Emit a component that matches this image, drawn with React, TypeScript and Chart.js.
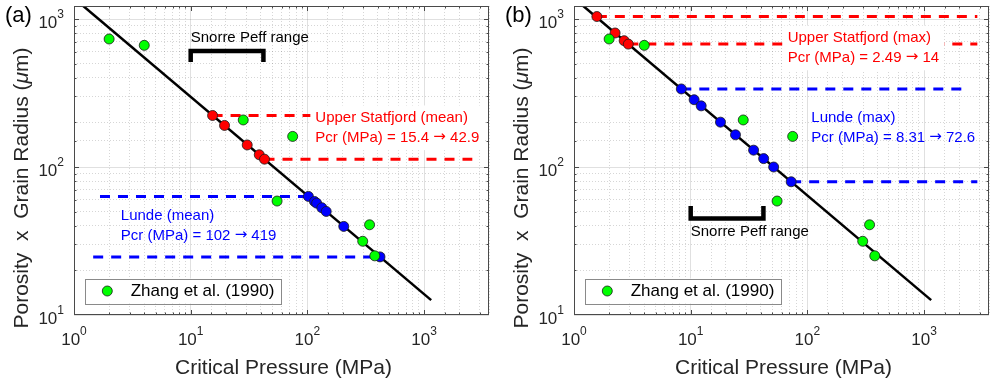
import React, { useEffect, useRef } from "react";
import { Chart, registerables } from "chart.js";

Chart.register(...registerables);

const FONT = '"Liberation Sans", Arial, Helvetica, sans-serif';
const ARROW_FONT = '"DejaVu Sans", "Liberation Sans", sans-serif';

// ---------- axes ----------
const xLimits = [1, 3600];
const yLimits = [10, 1225];
const xTickPowers = [0, 1, 2, 3];
const yTickPowers = [1, 2, 3];
const xAxisLabel = "Critical Pressure (MPa)";
const yAxisLabelParts = ["Porosity  x  Grain Radius (", "\u03bc", "m)"];

// ---------- fitted power-law line ----------
const fitPressure = [1.2, 1150];
const fitRadius = [1225, 12.6];

// ---------- Zhang et al. (1990) ----------
const zhangPressure = [2.0, 4.0, 28.2, 74.8, 55, 341, 298, 378];
const zhangRadius = [733, 664, 208, 161, 58.9, 40.7, 31.5, 25.1];
const zhangLabel = "Zhang et al. (1990)";

// ---------- panel (a): mean ----------
const statfjordMeanPressure = [15.4, 19.5, 30.5, 38.7, 42.9];
const statfjordMeanRadius = [223, 191, 141, 121, 113];
const statfjordMeanGuideP = [[15.4, 2590], [42.9, 2590]];
const statfjordMeanGuideR = [223, 113];
const statfjordMeanText = ["Upper Statfjord (mean)", "Pcr (MPa) = 15.4 \u2192 42.9"];
const statfjordMeanTextAt = [117, 214];

const lundeMeanPressure = [102, 115, 120, 133, 145, 205, 419];
const lundeMeanRadius = [63.3, 58.5, 57.0, 53.1, 50.1, 39.7, 24.7];
const lundeMeanGuideP = [[1.67, 102], [1.46, 419]];
const lundeMeanGuideR = [63.3, 24.7];
const lundeMeanText = ["Lunde (mean)", "Pcr (MPa) = 102 \u2192 419"];
const lundeMeanTextAt = [2.52, 46.6];

const snorreLabel = "Snorre Peff range";
const snorreP = [10, 10, 42, 42];
const snorreMeanR = [512, 608, 608, 512];
const snorreMeanTextAt = [10, 745];

// ---------- panel (b): max ----------
const statfjordMaxPressure = [1.57, 2.25, 2.69, 2.92];
const statfjordMaxRadius = [1040, 805, 714, 677];
const statfjordMaxGuideP = [[1.57, 2860], [2.92, 2860]];
const statfjordMaxGuideR = [1040, 677];
const statfjordMaxText = ["Upper Statfjord (max)", "Pcr (MPa) = 2.49 \u2192 14"];
const statfjordMaxTextAt = [67.8, 741];

const lundeMaxPressure = [8.31, 10.7, 12.3, 18.0, 24.2, 34.6, 42.2, 51.4, 72.6];
const lundeMaxRadius = [337, 285, 259, 201, 165, 130, 114, 100, 79.5];
const lundeMaxGuideP = [[8.31, 2425], [72.6, 2860]];
const lundeMaxGuideR = [337, 79.5];
const lundeMaxText = ["Lunde (max)", "Pcr (MPa) = 8.31 \u2192 72.6"];
const lundeMaxTextAt = [108, 214];

const snorreMaxR = [54.5, 44.8, 44.8, 54.5];
const snorreMaxTextAt = [10, 36.5];

const RED = "#ff0000";
const BLUE = "#0000ff";
const GREEN = "#00ff00";

const pts = (xs: number[], ys: number[]) => xs.map((x, i) => ({ x, y: ys[i] }));
const isPow10 = (v: number) => {
  if (!(v > 0)) return false;
  const l = Math.log10(v);
  return Math.abs(l - Math.round(l)) < 1e-6;
};

type TextBlock = { lines: string[]; at: number[]; color: string; size: number; lh: number; box: boolean };

type PanelCfg = {
  tag: string;
  statP: number[]; statR: number[]; statGP: number[][]; statGR: number[];
  lundeP: number[]; lundeR: number[]; lundeGP: number[][]; lundeGR: number[];
  snorreR: number[];
  texts: TextBlock[];
};

const panels: PanelCfg[] = [
  {
    tag: "(a)",
    statP: statfjordMeanPressure, statR: statfjordMeanRadius,
    statGP: statfjordMeanGuideP, statGR: statfjordMeanGuideR,
    lundeP: lundeMeanPressure, lundeR: lundeMeanRadius,
    lundeGP: lundeMeanGuideP, lundeGR: lundeMeanGuideR,
    snorreR: snorreMeanR,
    texts: [
      { lines: [snorreLabel], at: snorreMeanTextAt, color: "#000", size: 15, lh: 19.3, box: false },
      { lines: statfjordMeanText, at: statfjordMeanTextAt, color: RED, size: 15, lh: 19.3, box: true },
      { lines: lundeMeanText, at: lundeMeanTextAt, color: BLUE, size: 15, lh: 19.3, box: false },
    ],
  },
  {
    tag: "(b)",
    statP: statfjordMaxPressure, statR: statfjordMaxRadius,
    statGP: statfjordMaxGuideP, statGR: statfjordMaxGuideR,
    lundeP: lundeMaxPressure, lundeR: lundeMaxRadius,
    lundeGP: lundeMaxGuideP, lundeGR: lundeMaxGuideR,
    snorreR: snorreMaxR,
    texts: [
      { lines: [snorreLabel], at: snorreMaxTextAt, color: "#000", size: 15, lh: 19.3, box: false },
      { lines: statfjordMaxText, at: statfjordMaxTextAt, color: RED, size: 15, lh: 19.3, box: true },
      { lines: lundeMaxText, at: lundeMaxTextAt, color: BLUE, size: 15, lh: 19.3, box: false },
    ],
  },
];

// draws a line of text where the arrow glyph uses a wider font; returns width
function richLine(ctx: CanvasRenderingContext2D, s: string, x: number, y: number, size: number, draw: boolean) {
  const parts = s.split("\u2192");
  let cx = x;
  parts.forEach((p, i) => {
    ctx.font = `${size}px ${FONT}`;
    if (draw) ctx.fillText(p, cx, y);
    cx += ctx.measureText(p).width;
    if (i < parts.length - 1) {
      ctx.font = `${size}px ${ARROW_FONT}`;
      if (draw) ctx.fillText("\u2192", cx, y);
      cx += ctx.measureText("\u2192").width;
    }
  });
  return cx - x;
}

function makePlugin(cfg: PanelCfg) {
  return {
    id: "overlay" + cfg.tag,
    afterDatasetsDraw(chart: any) {
      const ctx: CanvasRenderingContext2D = chart.ctx;
      const { left, right, top, bottom } = chart.chartArea;
      const xs = chart.scales.x;
      const ys = chart.scales.y;
      ctx.save();
      // annotation texts
      for (const t of cfg.texts) {
        const x0 = xs.getPixelForValue(t.at[0]);
        const y0 = ys.getPixelForValue(t.at[1]);
        ctx.textAlign = "left";
        ctx.textBaseline = "middle";
        if (t.box) {
          const w = Math.max(...t.lines.map((l) => richLine(ctx, l, 0, 0, t.size, false)));
          ctx.fillStyle = "#ffffff";
          ctx.fillRect(x0 - 5, y0 - t.lh / 2 - 3, w + 10, t.lh * t.lines.length + 6);
        }
        ctx.fillStyle = t.color;
        t.lines.forEach((l, i) => richLine(ctx, l, x0, y0 + i * t.lh, t.size, true));
      }
      // legend
      const lx = left + 11, ly = bottom - 36.5, lw = 196, lhh = 25;
      ctx.fillStyle = "#ffffff";
      ctx.fillRect(lx, ly, lw, lhh);
      ctx.strokeStyle = "#8a8a8a";
      ctx.lineWidth = 1;
      ctx.strokeRect(Math.round(lx) + 0.5, Math.round(ly) + 0.5, lw, lhh);
      ctx.beginPath();
      ctx.arc(left + 33.3, ly + lhh / 2, 5, 0, Math.PI * 2);
      ctx.fillStyle = GREEN;
      ctx.fill();
      ctx.strokeStyle = "#1a1a1a";
      ctx.lineWidth = 0.8;
      ctx.stroke();
      ctx.fillStyle = "#000";
      ctx.font = `17px ${FONT}`;
      ctx.textBaseline = "middle";
      ctx.fillText(zhangLabel, left + 56.7, ly + lhh / 2 + 0.5);
      // frame
      ctx.strokeStyle = "#4a4a4a";
      ctx.lineWidth = 1;
      ctx.strokeRect(Math.round(left) + 0.5, Math.round(top) + 0.5, Math.round(right - left) - 1, Math.round(bottom - top) - 1);
      // inward ticks
      ctx.strokeStyle = "#4a4a4a";
      ctx.beginPath();
      for (const tk of xs.ticks) {
        const v = tk.value;
        if (v <= xs.min || v >= xs.max) continue;
        const px = Math.round(xs.getPixelForValue(v)) + 0.5;
        const len = isPow10(v) ? 5 : 2.5;
        ctx.moveTo(px, bottom); ctx.lineTo(px, bottom - len);
        ctx.moveTo(px, top); ctx.lineTo(px, top + len);
      }
      for (const tk of ys.ticks) {
        const v = tk.value;
        if (v <= ys.min || v >= ys.max) continue;
        const py = Math.round(ys.getPixelForValue(v)) + 0.5;
        const len = isPow10(v) ? 5 : 2.5;
        ctx.moveTo(left, py); ctx.lineTo(left + len, py);
        ctx.moveTo(right, py); ctx.lineTo(right - len, py);
      }
      ctx.stroke();
      ctx.restore();
    },
    afterDraw(chart: any) {
      const ctx: CanvasRenderingContext2D = chart.ctx;
      const { left, right, top, bottom } = chart.chartArea;
      const xs = chart.scales.x;
      const ys = chart.scales.y;
      ctx.save();
      ctx.fillStyle = "#262626";
      ctx.textAlign = "left";
      ctx.textBaseline = "middle";
      const base = `17px ${FONT}`;
      const sup = `12px ${FONT}`;
      // x tick labels
      for (const p of xTickPowers) {
        const px = xs.getPixelForValue(Math.pow(10, p));
        ctx.font = base; const w1 = ctx.measureText("10").width;
        ctx.font = sup; const w2 = ctx.measureText(String(p)).width;
        const sx = px - (w1 + w2) / 2;
        ctx.font = base; ctx.fillText("10", sx, bottom + 25);
        ctx.font = sup; ctx.fillText(String(p), sx + w1, bottom + 16.5);
      }
      // y tick labels
      for (const p of yTickPowers) {
        const py = ys.getPixelForValue(Math.pow(10, p));
        ctx.font = base; const w1 = ctx.measureText("10").width;
        ctx.font = sup; const w2 = ctx.measureText(String(p)).width;
        const sx = left - 10 - (w1 + w2);
        ctx.font = base; ctx.fillText("10", sx, py + 4.5);
        ctx.font = sup; ctx.fillText(String(p), sx + w1, py - 4.5);
      }
      // x axis label
      ctx.font = `21px ${FONT}`;
      ctx.textAlign = "center";
      ctx.fillText(xAxisLabel, (left + right) / 2 + 2, bottom + 53);
      // y axis label (rotated, italic mu)
      ctx.save();
      ctx.translate(22.5, 188);
      ctx.rotate(-Math.PI / 2);
      ctx.textAlign = "left";
      const fN = `21px ${FONT}`;
      const fI = `italic 21px ${FONT}`;
      ctx.font = fN; const a = ctx.measureText(yAxisLabelParts[0]).width;
      ctx.font = fI; const b = ctx.measureText(yAxisLabelParts[1]).width;
      ctx.font = fN; const c = ctx.measureText(yAxisLabelParts[2]).width;
      let x = -(a + b + c) / 2;
      ctx.font = fN; ctx.fillText(yAxisLabelParts[0], x, 0); x += a;
      ctx.font = fI; ctx.fillText(yAxisLabelParts[1], x, 0); x += b;
      ctx.font = fN; ctx.fillText(yAxisLabelParts[2], x, 0);
      ctx.restore();
      // panel tag
      ctx.font = `22px ${FONT}`;
      ctx.fillStyle = "#000";
      ctx.textAlign = "left";
      ctx.fillText(cfg.tag, 5, 16);
      ctx.restore();
    },
  };
}

function buildDatasets(cfg: PanelCfg) {
  const marker = (data: any[], color: string, label: string) => ({
    label,
    data,
    showLine: false,
    pointRadius: 5,
    pointBackgroundColor: color,
    pointBorderColor: "#1a1a1a",
    pointBorderWidth: 0.8,
    order: 0,
  });
  const line = (data: any[], color: string, width: number, dash: number[], label: string, order: number) => ({
    label,
    data,
    showLine: true,
    pointRadius: 0,
    borderColor: color,
    borderWidth: width,
    borderDash: dash,
    borderJoinStyle: "miter",
    borderCapStyle: "butt",
    fill: false,
    order,
  });
  const ds: any[] = [
    marker(pts(zhangPressure, zhangRadius), GREEN, zhangLabel),
    marker(pts(cfg.statP, cfg.statR), RED, "Upper Statfjord"),
    marker(pts(cfg.lundeP, cfg.lundeR), BLUE, "Lunde"),
    line(pts(fitPressure, fitRadius), "#000000", 2.5, [], "fit", 1),
    line(pts(snorreP, cfg.snorreR), "#000000", 4.5, [], snorreLabel, 2),
  ];
  cfg.statGP.forEach((gp, i) =>
    ds.push(line(pts(gp, [cfg.statGR[i], cfg.statGR[i]]), RED, 3, [10, 8], "statfjord guide", 3))
  );
  cfg.lundeGP.forEach((gp, i) =>
    ds.push(line(pts(gp, [cfg.lundeGR[i], cfg.lundeGR[i]]), BLUE, 3, [10, 8], "lunde guide", 3))
  );
  return ds;
}

function Panel({ cfg, offset }: { cfg: PanelCfg; offset: number }) {
  const ref = useRef<HTMLCanvasElement>(null);
  useEffect(() => {
    if (!ref.current) return;
    const chart = new Chart(ref.current, {
      type: "scatter",
      data: { datasets: buildDatasets(cfg) },
      options: {
        animation: false,
        responsive: false,
        devicePixelRatio: 1,
        events: [],
        layout: { padding: { left: 0, right: 11, top: 6, bottom: 0 } },
        plugins: { legend: { display: false }, tooltip: { enabled: false } },
        scales: {
          x: {
            type: "logarithmic",
            min: xLimits[0],
            max: xLimits[1],
            ticks: { display: false },
            border: {
              display: false,
              dash: (c: any) => (c.tick && !isPow10(c.tick.value) ? [1, 2] : []),
            },
            grid: {
              drawTicks: false,
              color: (c: any) => (c.tick && isPow10(c.tick.value) ? "rgba(0,0,0,0.12)" : "rgba(0,0,0,0.16)"),
              lineWidth: 1,
            },
            afterFit: (s: any) => { s.height = 69; },
          },
          y: {
            type: "logarithmic",
            min: yLimits[0],
            max: yLimits[1],
            ticks: { display: false },
            border: {
              display: false,
              dash: (c: any) => (c.tick && !isPow10(c.tick.value) ? [1, 2] : []),
            },
            grid: {
              drawTicks: false,
              color: (c: any) => (c.tick && isPow10(c.tick.value) ? "rgba(0,0,0,0.12)" : "rgba(0,0,0,0.16)"),
              lineWidth: 1,
            },
            afterFit: (s: any) => { s.width = 74; },
          },
        },
      } as any,
      plugins: [makePlugin(cfg) as any],
    });
    return () => chart.destroy();
  }, [cfg]);
  return (
    <canvas
      ref={ref}
      width={500}
      height={384}
      style={{ position: "absolute", left: offset, top: 0, width: 500, height: 384 }}
    />
  );
}

export default function App() {
  return (
    <div style={{ position: "fixed", left: 0, top: 0, width: 1000, height: 384, background: "#ffffff", overflow: "hidden" }}>
      <Panel cfg={panels[0]} offset={0} />
      <Panel cfg={panels[1]} offset={500} />
    </div>
  );
}
